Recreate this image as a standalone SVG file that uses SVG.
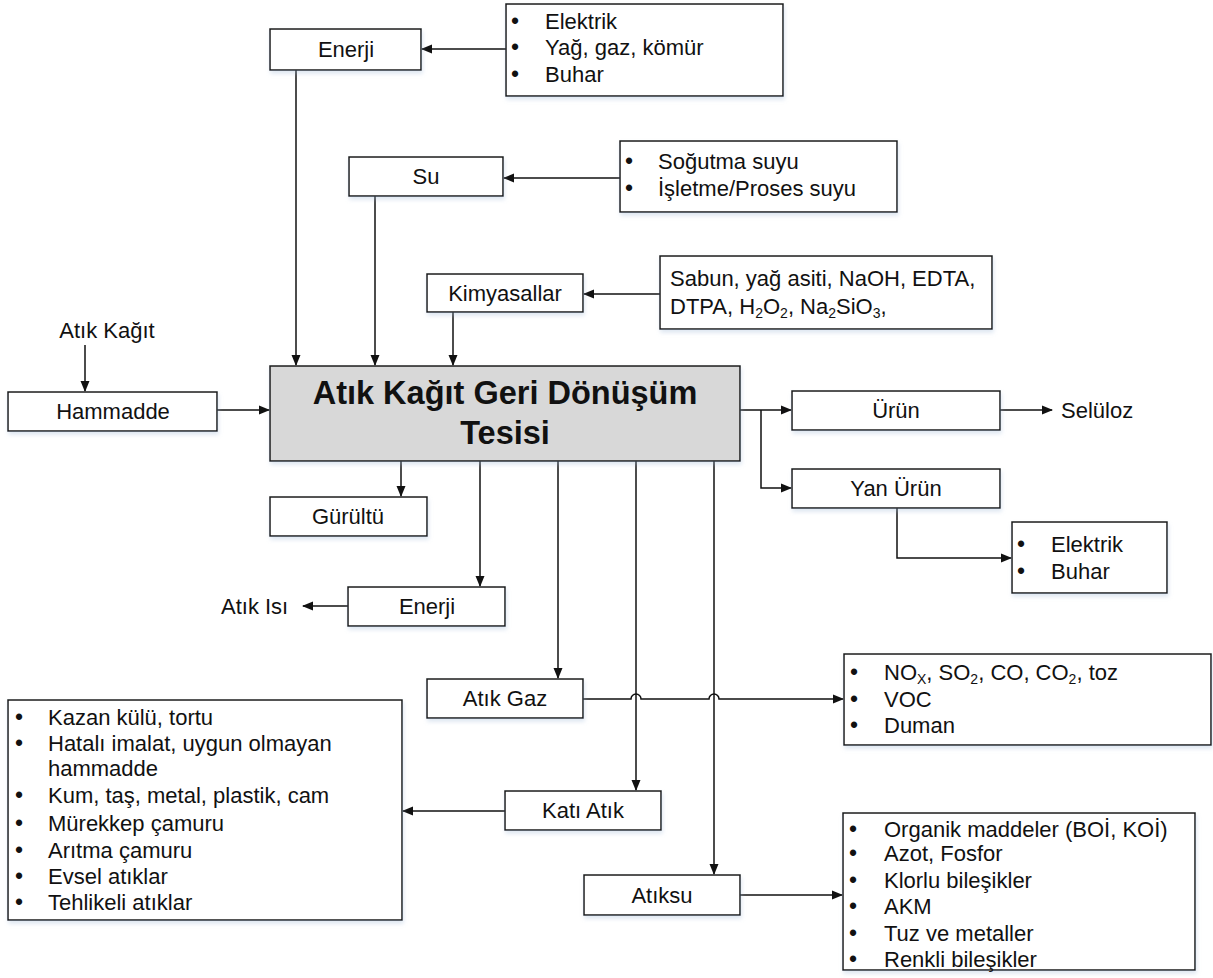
<svg xmlns="http://www.w3.org/2000/svg" width="1213" height="978" viewBox="0 0 1213 978">
<style>
  .box { fill: #ffffff; stroke: #1a1a1a; stroke-width: 1.5; filter: url(#shade); }
  .main { fill: #d8d8d8; stroke: #1a1a1a; stroke-width: 1.5; filter: url(#shade); }
  text { font-family: "Liberation Sans", Arial, sans-serif; font-size: 22px; fill: #111; }
  .c { text-anchor: middle; }
  .dot { font-size: 23px; }
  .title { font-size: 32.5px; font-weight: bold; text-anchor: middle; }
  .sub { font-size: 14px; }
  .arr { fill: none; stroke: #111; stroke-width: 1.5; marker-end: url(#ah); }
</style>
<defs>
  <marker id="ah" markerWidth="11" markerHeight="10" refX="10" refY="5" orient="auto" markerUnits="userSpaceOnUse">
    <path d="M0,0.5 L11,5 L0,9.5 Z" fill="#111"/>
  </marker>
  <filter id="shade" x="-5%" y="-5%" width="110%" height="125%">
    <feDropShadow dx="1" dy="3" stdDeviation="2" flood-color="#9fb8d8" flood-opacity="0.35"/>
  </filter>
</defs>
<rect width="1213" height="978" fill="#ffffff"/>

<!-- connectors -->
<g id="connectors">
  <path class="arr" d="M506,49 H422"/>
  <path class="arr" d="M296,70 V365"/>
  <path class="arr" d="M620,178 H504"/>
  <path class="arr" d="M375,196 V365"/>
  <path class="arr" d="M660,294 H584"/>
  <path class="arr" d="M453,312 V365"/>
  <path class="arr" d="M85,345 V391"/>
  <path class="arr" d="M217,410 H269"/>
  <path class="arr" d="M740,410 H791"/>
  <path class="arr" d="M761,410 V488 H791"/>
  <path class="arr" d="M1000,410 H1052"/>
  <path class="arr" d="M897,508 V558 H1011"/>
  <path class="arr" d="M401,461 V496"/>
  <path class="arr" d="M480,461 V586"/>
  <path class="arr" d="M348,606 H303"/>
  <path class="arr" d="M558,461 V678"/>
  <path class="arr" d="M636,461 V790"/>
  <path class="arr" d="M714,461 V874"/>
  <!-- waste gas line hops over the two vertical drops -->
  <path class="arr" d="M583,699 H631 A5,5 0 0 1 641,699 H709 A5,5 0 0 1 719,699 H843"/>
  <path class="arr" d="M505,811 H403"/>
  <path class="arr" d="M740,895 H842"/>
</g>

<!-- energy input -->
<g id="enerji-in">
  <rect class="box" x="270" y="29" width="151" height="41"/>
  <text class="c" x="346" y="57">Enerji</text>
</g>
<g id="enerji-kaynak">
  <rect class="box" x="506" y="4" width="277" height="92"/>
  <text class="dot" x="511" y="29">•</text><text x="545" y="29">Elektrik</text>
  <text class="dot" x="511" y="55">•</text><text x="545" y="55">Yağ, gaz, kömür</text>
  <text class="dot" x="511" y="82">•</text><text x="545" y="82">Buhar</text>
</g>

<!-- water input -->
<g id="su">
  <rect class="box" x="349" y="157" width="154" height="39"/>
  <text class="c" x="426" y="184">Su</text>
</g>
<g id="su-kaynak">
  <rect class="box" x="620" y="141" width="277" height="71"/>
  <text class="dot" x="625" y="169">•</text><text x="658" y="169">Soğutma suyu</text>
  <text class="dot" x="625" y="196">•</text><text x="658" y="196">İşletme/Proses suyu</text>
</g>

<!-- chemicals input -->
<g id="kimyasallar">
  <rect class="box" x="427" y="274" width="156" height="38"/>
  <text class="c" x="505" y="301">Kimyasallar</text>
</g>
<g id="kimyasal-liste">
  <rect class="box" x="660" y="256" width="332" height="73"/>
  <text x="670" y="286">Sabun, yağ asiti, NaOH, EDTA,</text>
  <text x="670" y="314">DTPA, H<tspan class="sub" dy="4">2</tspan><tspan dy="-4">O</tspan><tspan class="sub" dy="4">2</tspan><tspan dy="-4">, Na</tspan><tspan class="sub" dy="4">2</tspan><tspan dy="-4">SiO</tspan><tspan class="sub" dy="4">3</tspan><tspan dy="-4">,</tspan></text>
</g>

<!-- raw material -->
<g id="atik-kagit">
  <text class="c" x="107" y="338">Atık Kağıt</text>
</g>
<g id="hammadde">
  <rect class="box" x="8" y="392" width="209" height="39"/>
  <text class="c" x="113" y="419">Hammadde</text>
</g>

<!-- facility -->
<g id="tesis">
  <rect class="main" x="270" y="366" width="470" height="95"/>
  <text class="title" x="505" y="404">Atık Kağıt Geri Dönüşüm</text>
  <text class="title" x="505" y="444">Tesisi</text>
</g>

<!-- products -->
<g id="urun">
  <rect class="box" x="792" y="391" width="208" height="39"/>
  <text class="c" x="896" y="418">Ürün</text>
</g>
<g id="seluloz">
  <text x="1061" y="418">Selüloz</text>
</g>
<g id="yan-urun">
  <rect class="box" x="792" y="469" width="208" height="39"/>
  <text class="c" x="896" y="496">Yan Ürün</text>
</g>
<g id="yan-urun-liste">
  <rect class="box" x="1012" y="522" width="155" height="71"/>
  <text class="dot" x="1017" y="552">•</text><text x="1051" y="552">Elektrik</text>
  <text class="dot" x="1017" y="579">•</text><text x="1051" y="579">Buhar</text>
</g>

<!-- noise and heat -->
<g id="gurultu">
  <rect class="box" x="270" y="497" width="157" height="39"/>
  <text class="c" x="348" y="524">Gürültü</text>
</g>
<g id="enerji-out">
  <rect class="box" x="348" y="587" width="157" height="39"/>
  <text class="c" x="427" y="614">Enerji</text>
</g>
<g id="atik-isi">
  <text x="221" y="614">Atık Isı</text>
</g>

<!-- waste gas -->
<g id="atik-gaz">
  <rect class="box" x="427" y="679" width="156" height="39"/>
  <text class="c" x="505" y="706">Atık Gaz</text>
</g>
<g id="gaz-liste">
  <rect class="box" x="844" y="654" width="367" height="91"/>
  <text class="dot" x="850" y="680">•</text><text x="884" y="680">NO<tspan class="sub" dy="4">X</tspan><tspan dy="-4">, SO</tspan><tspan class="sub" dy="4">2</tspan><tspan dy="-4">, CO, CO</tspan><tspan class="sub" dy="4">2</tspan><tspan dy="-4">, toz</tspan></text>
  <text class="dot" x="850" y="707">•</text><text x="884" y="707">VOC</text>
  <text class="dot" x="850" y="733">•</text><text x="884" y="733">Duman</text>
</g>

<!-- solid waste -->
<g id="kati-atik">
  <rect class="box" x="505" y="791" width="156" height="39"/>
  <text class="c" x="583" y="818">Katı Atık</text>
</g>
<g id="kati-liste">
  <rect class="box" x="8" y="700" width="394" height="220"/>
  <text class="dot" x="15" y="725">•</text><text x="48" y="725">Kazan külü, tortu</text>
  <text class="dot" x="15" y="751">•</text><text x="48" y="751">Hatalı imalat, uygun olmayan</text>
  <text x="48" y="776">hammadde</text>
  <text class="dot" x="15" y="803">•</text><text x="48" y="803">Kum, taş, metal, plastik, cam</text>
  <text class="dot" x="15" y="831">•</text><text x="48" y="831">Mürekkep çamuru</text>
  <text class="dot" x="15" y="858">•</text><text x="48" y="858">Arıtma çamuru</text>
  <text class="dot" x="15" y="884">•</text><text x="48" y="884">Evsel atıklar</text>
  <text class="dot" x="15" y="910">•</text><text x="48" y="910">Tehlikeli atıklar</text>
</g>

<!-- wastewater -->
<g id="atiksu">
  <rect class="box" x="584" y="875" width="156" height="40"/>
  <text class="c" x="662" y="903">Atıksu</text>
</g>
<g id="atiksu-liste">
  <rect class="box" x="843" y="813" width="352" height="157"/>
  <text class="dot" x="849" y="837">•</text><text x="884" y="837">Organik maddeler (BOİ, KOİ)</text>
  <text class="dot" x="849" y="861">•</text><text x="884" y="861">Azot, Fosfor</text>
  <text class="dot" x="849" y="888">•</text><text x="884" y="888">Klorlu bileşikler</text>
  <text class="dot" x="849" y="914">•</text><text x="884" y="914">AKM</text>
  <text class="dot" x="849" y="941">•</text><text x="884" y="941">Tuz ve metaller</text>
  <text class="dot" x="849" y="967">•</text><text x="884" y="967">Renkli bileşikler</text>
</g>
</svg>
